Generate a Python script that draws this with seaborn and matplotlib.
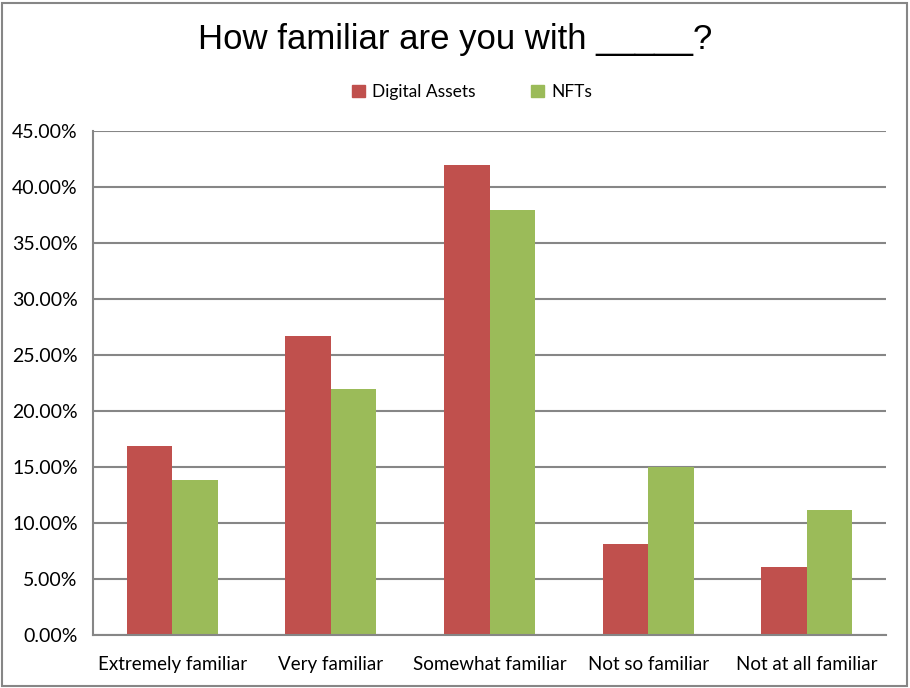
import matplotlib
matplotlib.use("Agg")
import matplotlib.pyplot as plt
import matplotlib.patches as mpatches
import pandas as pd
import seaborn as sns

# -----------------------------
# DATA
# -----------------------------
categories = ["Extremely familiar", "Very familiar", "Somewhat familiar",
              "Not so familiar", "Not at all familiar"]
digital_assets = [16.9, 26.67, 42.0, 8.1, 6.07]
nfts = [13.84, 21.94, 37.92, 15.0, 11.16]
series_names = ["Digital Assets", "NFTs"]
y_ticks = [0, 5, 10, 15, 20, 25, 30, 35, 40, 45]

df = pd.DataFrame({
    "Category": categories * 2,
    "Series": [series_names[0]] * len(categories) + [series_names[1]] * len(categories),
    "Value": digital_assets + nfts,
})

# -----------------------------
# STYLE
# -----------------------------
sns.set_theme(style="white")
plt.rcParams["font.family"] = ["Lato", "DejaVu Sans"]
plt.rcParams["text.color"] = "black"

RED = "#C0504D"
GREEN = "#9BBB59"
GRID = "#868686"

fig = plt.figure(figsize=(9.1, 6.88), dpi=100, facecolor="white")
ax = fig.add_axes([93 / 910, 1 - 635 / 688, (886 - 93) / 910, (635 - 131) / 688])

sns.barplot(data=df, x="Category", y="Value", hue="Series",
            palette=[RED, GREEN], width=0.575, linewidth=0,
            saturation=1, legend=False, ax=ax)

ax.set_xlim(-0.5, len(categories) - 0.5)
ax.set_ylim(0, 45)
ax.set_yticks(y_ticks)
ax.set_yticklabels([f"{t:.2f}%" for t in y_ticks], fontsize=14)
ax.set_xticks(range(len(categories)))
ax.set_xticklabels(categories, fontsize=13.5)
ax.set_xticks([i - 0.5 for i in range(len(categories) + 1)], minor=True)
ax.tick_params(axis="x", which="major", length=0, pad=15, labelcolor="black")
ax.tick_params(axis="x", which="minor", length=6, width=1.5, color=GRID)
ax.tick_params(axis="y", length=6, width=1.5, color=GRID, pad=5, labelcolor="black")
ax.set_xlabel("")
ax.set_ylabel("")

ax.yaxis.grid(True, color=GRID, linewidth=1.5)
ax.set_axisbelow(True)
for side in ["top", "right"]:
    ax.spines[side].set_visible(False)
for side in ["left", "bottom"]:
    ax.spines[side].set_color(GRID)
    ax.spines[side].set_linewidth(1.5)

# title and legend
fig.text(0.5, 1 - 40 / 688, "How familiar are you with _____?",
         ha="center", va="center", fontsize=25, family="Liberation Sans",
         color="black")
handles = [mpatches.Patch(color=RED, label=series_names[0]),
           mpatches.Patch(color=GREEN, label=series_names[1])]
fig.legend(handles=handles, loc="center", bbox_to_anchor=(472 / 910, 1 - 92 / 688),
           ncol=2, frameon=False, fontsize=12.5, handlelength=0.75, handleheight=0.75,
           columnspacing=3.2, handletextpad=0.4, labelcolor="black")

# chart border
fig.patches.append(mpatches.Rectangle((2 / 910, 2 / 688), 905 / 910, 683 / 688,
                                      transform=fig.transFigure, fill=False,
                                      edgecolor=GRID, linewidth=1.5))

fig.savefig("out.png", dpi=100, facecolor="white")
